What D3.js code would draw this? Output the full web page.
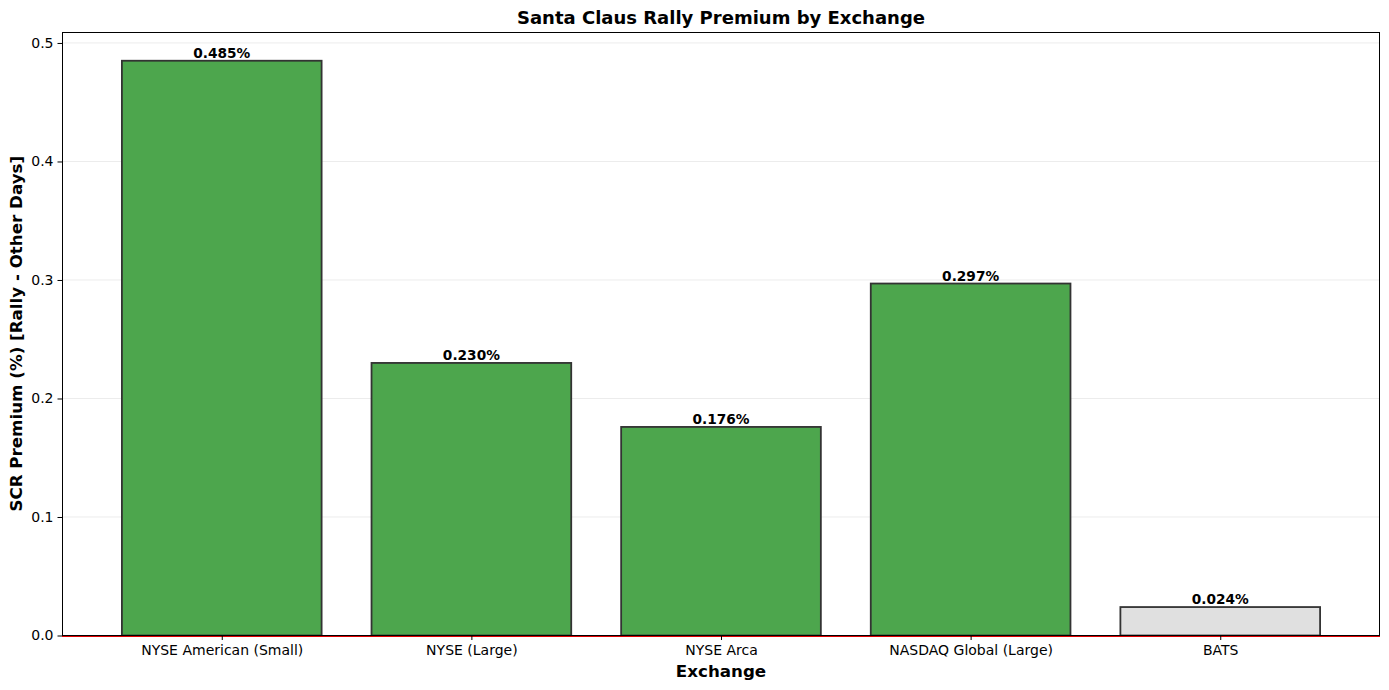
<!DOCTYPE html>
<html>
<head>
<meta charset="utf-8">
<script src="https://cdn.jsdelivr.net/npm/d3@7"></script>
<style>
body{margin:0;background:#fff;}
svg{font-family:"DejaVu Sans",sans-serif;}
</style>
</head>
<body>
<svg id="chart" width="1389" height="690"></svg>
<script>
const categories = ["NYSE American (Small)", "NYSE (Large)", "NYSE Arca", "NASDAQ Global (Large)", "BATS"];
const premiums = [0.485, 0.230, 0.176, 0.297, 0.024];
const significant = [true, true, true, true, false];
const yTicks = [0.0, 0.1, 0.2, 0.3, 0.4, 0.5];

const svg = d3.select("#chart");
const m = {left: 62, right: 1380, top: 32, bottom: 635.5};

const x = d3.scaleLinear().domain([-0.64, categories.length - 1 + 0.64]).range([m.left, m.right]);
const yMax = d3.max(premiums) * 1.05;
const y = d3.scaleLinear().domain([0, yMax]).range([m.bottom, m.top]);
const bw = x(0.8) - x(0);

// grid
svg.append("g").selectAll("line").data(yTicks.filter(d => d > 0)).join("line")
  .attr("x1", m.left).attr("x2", m.right)
  .attr("y1", d => y(d)).attr("y2", d => y(d))
  .attr("stroke", "#b0b0b0").attr("stroke-opacity", 0.3).attr("stroke-width", 0.8);

// bars
svg.append("g").selectAll("rect").data(premiums).join("rect")
  .attr("x", (d, i) => x(i) - bw / 2)
  .attr("y", d => y(d))
  .attr("width", bw)
  .attr("height", d => y(0) - y(d))
  .attr("fill", (d, i) => significant[i] ? "#4da64d" : "#e0e0e0")
  .attr("stroke", "#333333")
  .attr("stroke-width", 1.8);

// value labels
svg.append("g").selectAll("text").data(premiums).join("text")
  .attr("x", (d, i) => x(i))
  .attr("y", d => y(d) - 3)
  .attr("text-anchor", "middle")
  .attr("font-size", "13.7px").attr("font-weight", "bold")
  .text(d => d.toFixed(3) + "%");

// zero line (red)
svg.append("line").attr("x1", m.left).attr("x2", m.right)
  .attr("y1", y(0) + 1).attr("y2", y(0) + 1)
  .attr("stroke", "#e00000").attr("stroke-width", 1);

// axes
const yAxis = d3.axisLeft(y).tickValues(yTicks).tickFormat(d3.format(".1f")).tickSize(4.5).tickPadding(4);
const gy = svg.append("g").attr("transform", `translate(${m.left},0)`).call(yAxis);
gy.select(".domain").remove();
gy.selectAll("text").attr("font-size", "14px").attr("fill", "#000").attr("font-family", "DejaVu Sans");
gy.selectAll("line").attr("stroke", "#000");

const xAxis = d3.axisBottom(x).tickValues(d3.range(categories.length)).tickFormat(i => categories[i]).tickSize(4.5).tickPadding(5);
const gx = svg.append("g").attr("transform", `translate(0,${m.bottom})`).call(xAxis);
gx.select(".domain").remove();
gx.selectAll("text").attr("font-size", "14px").attr("fill", "#000").attr("font-family", "DejaVu Sans");
gx.selectAll("line").attr("stroke", "#000");

// frame
svg.append("rect").attr("x", m.left + 0.5).attr("y", m.top + 0.5)
  .attr("width", m.right - m.left - 1).attr("height", m.bottom - m.top - 0.5)
  .attr("fill", "none").attr("stroke", "#000").attr("stroke-width", 1);

// title & labels
svg.append("text").attr("x", (m.left + m.right) / 2).attr("y", 24)
  .attr("text-anchor", "middle").attr("font-size", "18px").attr("font-weight", "bold")
  .text("Santa Claus Rally Premium by Exchange");
svg.append("text").attr("x", (m.left + m.right) / 2).attr("y", 677)
  .attr("text-anchor", "middle").attr("font-size", "16.7px").attr("font-weight", "bold")
  .text("Exchange");
svg.append("text").attr("transform", `translate(22,${(m.top + m.bottom) / 2}) rotate(-90)`)
  .attr("text-anchor", "middle").attr("font-size", "16.7px").attr("font-weight", "bold")
  .text("SCR Premium (%) [Rally - Other Days]");
</script>
</body>
</html>
